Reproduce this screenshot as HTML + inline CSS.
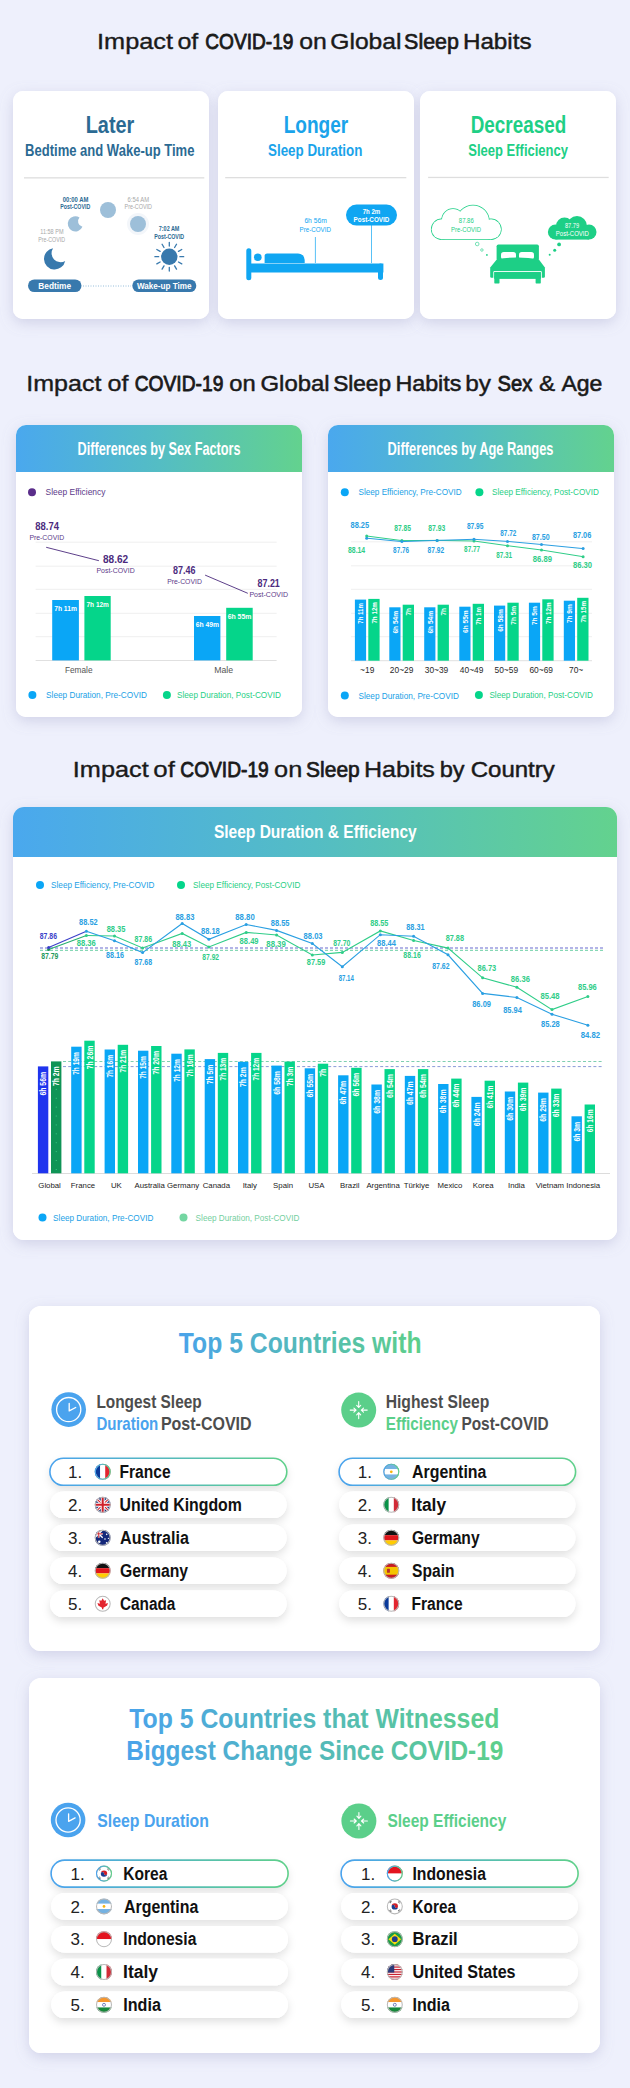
<!DOCTYPE html>
<html><head><meta charset="utf-8"><title>Impact of COVID-19 on Global Sleep Habits</title>
<style>html,body{margin:0;padding:0;background:#eef0fc;}body{width:630px;height:2088px;overflow:hidden;}svg{display:block;font-family:"Liberation Sans", sans-serif;}</style>
</head><body>
<svg width="630" height="2088" viewBox="0 0 630 2088">
<rect width="630" height="2088" fill="#eef0fc"/>
<rect x="13" y="91" width="196" height="228" rx="10" fill="#fff" filter="url(#sh)"/>
<rect x="218" y="91" width="196" height="228" rx="10" fill="#fff" filter="url(#sh)"/>
<rect x="420" y="91" width="196" height="228" rx="10" fill="#fff" filter="url(#sh)"/>
<rect x="16" y="425" width="286" height="292" rx="10" fill="#fff" filter="url(#sh)"/>
<rect x="328" y="425" width="286" height="292" rx="10" fill="#fff" filter="url(#sh)"/>
<rect x="13" y="807" width="604" height="433" rx="11" fill="#fff" filter="url(#sh)"/>
<rect x="29" y="1306" width="571" height="345" rx="12" fill="#fff" filter="url(#sh)"/>
<rect x="29" y="1678" width="571" height="375" rx="12" fill="#fff" filter="url(#sh)"/>
<defs>
<filter id="sh" x="-15%" y="-15%" width="130%" height="135%"><feDropShadow dx="0" dy="4" stdDeviation="7" flood-color="#8a8cb8" flood-opacity="0.30"/></filter>
<filter id="sh2" x="-10%" y="-80%" width="120%" height="260%"><feDropShadow dx="0" dy="4" stdDeviation="4.5" flood-color="#000" flood-opacity="0.12"/></filter>
<linearGradient id="hg" x1="0" y1="0" x2="1" y2="0"><stop offset="0" stop-color="#4aa8ee"/><stop offset="0.5" stop-color="#54bdc4"/><stop offset="1" stop-color="#63d28e"/></linearGradient>
<linearGradient id="pg" x1="0" y1="0" x2="1" y2="0"><stop offset="0" stop-color="#4aa3ee"/><stop offset="1" stop-color="#5fd08a"/></linearGradient>
<linearGradient id="tg4" gradientUnits="userSpaceOnUse" x1="179" y1="0" x2="420" y2="0"><stop offset="0" stop-color="#4aa3ea"/><stop offset="1" stop-color="#5dcf8a"/></linearGradient>
<linearGradient id="tg5" gradientUnits="userSpaceOnUse" x1="128" y1="0" x2="502" y2="0"><stop offset="0" stop-color="#4aa3ea"/><stop offset="1" stop-color="#5dcf8a"/></linearGradient>
</defs>
<text x="97.0" y="48.8" font-size="22.5" fill="#1a1a1a" textLength="76.0" lengthAdjust="spacingAndGlyphs" stroke="#1a1a1a" stroke-width="0.36" stroke-linejoin="round">Impact</text>
<text x="177.4" y="48.8" font-size="22.5" fill="#1a1a1a" textLength="20.9" lengthAdjust="spacingAndGlyphs" stroke="#1a1a1a" stroke-width="0.36" stroke-linejoin="round">of</text>
<text x="205.3" y="48.8" font-size="22.5" fill="#1a1a1a" textLength="88.2" lengthAdjust="spacingAndGlyphs" stroke="#1a1a1a" stroke-width="0.90" stroke-linejoin="round">COVID-19</text>
<text x="299.2" y="48.8" font-size="22.5" fill="#1a1a1a" textLength="27.6" lengthAdjust="spacingAndGlyphs" stroke="#1a1a1a" stroke-width="0.39" stroke-linejoin="round">on</text>
<text x="330.3" y="48.8" font-size="22.5" fill="#1a1a1a" textLength="71.2" lengthAdjust="spacingAndGlyphs" stroke="#1a1a1a" stroke-width="0.42" stroke-linejoin="round">Global</text>
<text x="404.1" y="48.8" font-size="22.5" fill="#1a1a1a" textLength="54.8" lengthAdjust="spacingAndGlyphs" stroke="#1a1a1a" stroke-width="0.69" stroke-linejoin="round">Sleep</text>
<text x="462.9" y="48.8" font-size="22.5" fill="#1a1a1a" textLength="68.7" lengthAdjust="spacingAndGlyphs" stroke="#1a1a1a" stroke-width="0.45" stroke-linejoin="round">Habits</text>
<rect x="13" y="91" width="196" height="228" rx="10" fill="#fff"/>
<rect x="218" y="91" width="196" height="228" rx="10" fill="#fff"/>
<rect x="420" y="91" width="196" height="228" rx="10" fill="#fff"/>
<text x="85.7" y="133.0" font-size="24.5" font-weight="bold" fill="#2b6a93" textLength="48.6" lengthAdjust="spacingAndGlyphs">Later</text>
<text x="25.1" y="155.7" font-size="16" font-weight="bold" fill="#2b6a93" textLength="169.3" lengthAdjust="spacingAndGlyphs">Bedtime and Wake-up Time</text>
<rect x="24" y="177.2" width="180.3" height="1.3" fill="#dedede"/>
<rect x="225.2" y="177" width="181.1" height="1.3" fill="#dedede"/>
<rect x="428.1" y="176.8" width="180.6" height="1.3" fill="#dedede"/>
<text x="62.8" y="201.8" font-size="6.3" font-weight="bold" fill="#2b6a93" textLength="25.6" lengthAdjust="spacingAndGlyphs">00:00 AM</text>
<text x="60.3" y="209.0" font-size="6.3" font-weight="bold" fill="#2b6a93" textLength="29.9" lengthAdjust="spacingAndGlyphs">Post-COVID</text>
<path d="M82.43,226.68 A7.6,7.6 0 1 1 79.49,217.40 A5.6,5.6 0 0 0 82.43,226.68 Z" fill="#9dbfd9"/>
<circle cx="108" cy="210" r="8" fill="#9dbfd9"/>
<text x="40.3" y="234.0" font-size="6.3" fill="#a8a8a8" textLength="23.2" lengthAdjust="spacingAndGlyphs">11:58 PM</text>
<text x="38.2" y="241.5" font-size="6.3" fill="#a8a8a8" textLength="26.8" lengthAdjust="spacingAndGlyphs">Pre-COVID</text>
<path d="M65.18,260.95 A10.7,10.7 0 1 1 53.10,248.22 A9.0,9.0 0 0 0 65.18,260.95 Z" fill="#3879ad"/>
<text x="127.6" y="202.0" font-size="6.3" fill="#a8a8a8" textLength="21.5" lengthAdjust="spacingAndGlyphs">6:54 AM</text>
<text x="124.6" y="209.0" font-size="6.3" fill="#a8a8a8" textLength="27.4" lengthAdjust="spacingAndGlyphs">Pre-COVID</text>
<circle cx="138" cy="224" r="11" fill="#f3f6fa"/>
<circle cx="138" cy="224" r="8" fill="#9dbfd9"/>
<text x="158.8" y="230.7" font-size="6.3" font-weight="bold" fill="#2b6a93" textLength="20.6" lengthAdjust="spacingAndGlyphs">7:02 AM</text>
<text x="154.2" y="238.6" font-size="6.3" font-weight="bold" fill="#2b6a93" textLength="30.0" lengthAdjust="spacingAndGlyphs">Post-COVID</text>
<circle cx="169.3" cy="256.7" r="8.2" fill="#3879ad"/>
<path d="M179.90,256.70 L183.70,256.70 M178.48,262.00 L181.77,263.90 M174.60,265.88 L176.50,269.17 M169.30,267.30 L169.30,271.10 M164.00,265.88 L162.10,269.17 M160.12,262.00 L156.83,263.90 M158.70,256.70 L154.90,256.70 M160.12,251.40 L156.83,249.50 M164.00,247.52 L162.10,244.23 M169.30,246.10 L169.30,242.30 M174.60,247.52 L176.50,244.23 M178.48,251.40 L181.77,249.50" stroke="#3879ad" stroke-width="1.3" stroke-linecap="round"/>
<rect x="28" y="279.5" width="53.5" height="12.6" rx="6.3" fill="#3879ad"/>
<text x="38.3" y="288.9" font-size="9" font-weight="bold" fill="#fff" textLength="32.7" lengthAdjust="spacingAndGlyphs">Bedtime</text>
<rect x="132.3" y="279.4" width="64" height="12.6" rx="6.3" fill="#3879ad"/>
<text x="136.9" y="288.9" font-size="9" font-weight="bold" fill="#fff" textLength="54.6" lengthAdjust="spacingAndGlyphs">Wake-up Time</text>
<line x1="83" y1="286" x2="131" y2="286" stroke="#5a9cc8" stroke-width="0.8" stroke-dasharray="1 1.5" opacity="0.8"/>
<text x="283.7" y="133.0" font-size="24.5" font-weight="bold" fill="#1aa3ea" textLength="64.6" lengthAdjust="spacingAndGlyphs">Longer</text>
<text x="268.0" y="155.7" font-size="16" font-weight="bold" fill="#1aa3ea" textLength="94.4" lengthAdjust="spacingAndGlyphs">Sleep Duration</text>
<rect x="246.3" y="248.3" width="5" height="32" rx="2.5" fill="#10a6f2"/>
<rect x="248" y="263.5" width="135.4" height="9" fill="#10a6f2"/>
<rect x="378" y="263.5" width="5" height="16.5" rx="2.5" fill="#10a6f2"/>
<circle cx="257.8" cy="257.2" r="3.8" fill="#10a6f2"/>
<path d="M264.6,263 V256 a2.6,2.6 0 0 1 2.6,-2.6 H298 a6.7,6.7 0 0 1 6.7,6.7 V263 Z" fill="#10a6f2"/>
<line x1="315.4" y1="237" x2="315.4" y2="263" stroke="#10a6f2" stroke-width="0.7"/>
<line x1="371.5" y1="225" x2="371.5" y2="263" stroke="#10a6f2" stroke-width="0.7"/>
<text x="304.4" y="223.4" font-size="7" fill="#10a6f2" textLength="22.4" lengthAdjust="spacingAndGlyphs">6h 56m</text>
<text x="299.5" y="232.4" font-size="7" fill="#10a6f2" textLength="31.4" lengthAdjust="spacingAndGlyphs">Pre-COVID</text>
<rect x="346" y="204.6" width="51" height="21" rx="10.5" fill="#10a6f2"/>
<text x="362.7" y="214.0" font-size="6.5" font-weight="bold" fill="#fff" textLength="17.6" lengthAdjust="spacingAndGlyphs">7h 2m</text>
<text x="353.6" y="222.0" font-size="6.5" font-weight="bold" fill="#fff" textLength="35.7" lengthAdjust="spacingAndGlyphs">Post-COVID</text>
<text x="470.7" y="133.4" font-size="24.5" font-weight="bold" fill="#20cf85" textLength="95.5" lengthAdjust="spacingAndGlyphs">Decreased</text>
<text x="468.3" y="156.3" font-size="16" font-weight="bold" fill="#20cf85" textLength="99.7" lengthAdjust="spacingAndGlyphs">Sleep Efficiency</text>
<g fill="#1dcf86" stroke="#1dcf86" stroke-width="1.4"><circle cx="441.6" cy="229.2" r="10"/><circle cx="453" cy="220" r="11"/><circle cx="473" cy="221.4" r="16"/><circle cx="491" cy="229.2" r="10"/><rect x="441.6" y="229.2" width="49.4" height="10.0"/></g>
<g fill="#fff"><circle cx="441.6" cy="229.2" r="10"/><circle cx="453" cy="220" r="11"/><circle cx="473" cy="221.4" r="16"/><circle cx="491" cy="229.2" r="10"/><rect x="441.6" y="229.2" width="49.4" height="10.0"/></g>
<text x="458.8" y="223.0" font-size="7" fill="#1dcf86" textLength="15.0" lengthAdjust="spacingAndGlyphs">87.86</text>
<text x="451.0" y="231.6" font-size="7" fill="#1dcf86" textLength="30.0" lengthAdjust="spacingAndGlyphs">Pre-COVID</text>
<circle cx="477.2" cy="244" r="1.8" fill="#fff" stroke="#1dcf86" stroke-width="0.6"/>
<circle cx="481.9" cy="250" r="1.25" fill="#fff" stroke="#1dcf86" stroke-width="0.6"/>
<circle cx="486.9" cy="254.9" r="0.9" fill="#1dcf86"/>
<g fill="#1dcf86"><circle cx="555.5" cy="232" r="7.6"/><circle cx="564.5" cy="226" r="8.5"/><circle cx="577" cy="226" r="10"/><circle cx="589" cy="232" r="7.5"/><rect x="555.5" y="232" width="33.5" height="7.6"/></g>
<text x="564.9" y="227.8" font-size="7" fill="#fff" textLength="14.2" lengthAdjust="spacingAndGlyphs">87.79</text>
<text x="555.8" y="236.4" font-size="7" fill="#fff" textLength="33.0" lengthAdjust="spacingAndGlyphs">Post-COVID</text>
<circle cx="559.1" cy="244.4" r="1.9" fill="#1dcf86"/>
<circle cx="554.7" cy="250.2" r="1.5" fill="#1dcf86"/>
<circle cx="549.7" cy="254.8" r="1" fill="#1dcf86"/>
<rect x="496.6" y="244.4" width="42.3" height="16" rx="1.8" fill="#1dcf86"/>
<rect x="501" y="252" width="15" height="7.5" rx="2.8" fill="#fff"/>
<rect x="519" y="252" width="15" height="7.5" rx="2.8" fill="#fff"/>
<path d="M496.9,259.2 Q517.8,255.6 538.7,259.2 L544.9,267.5 V276.5 Q544.9,277.7 543.7,277.7 H491.4 Q490.2,277.7 490.2,276.5 V267.5 Z" fill="#1dcf86"/>
<path d="M493.8,278.5 V271.6 H541.3 V278.5" fill="none" stroke="#fff" stroke-width="1"/>
<rect x="494.3" y="272.1" width="46.5" height="6.8" fill="#1dcf86"/>
<rect x="494.3" y="276" width="5.2" height="7.4" rx="0.6" fill="#1dcf86"/>
<rect x="535.6" y="276" width="5.2" height="7.4" rx="0.6" fill="#1dcf86"/>
<text x="26.2" y="391.0" font-size="22" fill="#1a1a1a" textLength="75.2" lengthAdjust="spacingAndGlyphs" stroke="#1a1a1a" stroke-width="0.38" stroke-linejoin="round">Impact</text>
<text x="107.6" y="391.0" font-size="22" fill="#1a1a1a" textLength="21.0" lengthAdjust="spacingAndGlyphs" stroke="#1a1a1a" stroke-width="0.35" stroke-linejoin="round">of</text>
<text x="134.7" y="391.0" font-size="22" fill="#1a1a1a" textLength="88.7" lengthAdjust="spacingAndGlyphs" stroke="#1a1a1a" stroke-width="0.89" stroke-linejoin="round">COVID-19</text>
<text x="229.2" y="391.0" font-size="22" fill="#1a1a1a" textLength="26.4" lengthAdjust="spacingAndGlyphs" stroke="#1a1a1a" stroke-width="0.47" stroke-linejoin="round">on</text>
<text x="260.5" y="391.0" font-size="22" fill="#1a1a1a" textLength="69.1" lengthAdjust="spacingAndGlyphs" stroke="#1a1a1a" stroke-width="0.48" stroke-linejoin="round">Global</text>
<text x="333.2" y="391.0" font-size="22" fill="#1a1a1a" textLength="57.8" lengthAdjust="spacingAndGlyphs" stroke="#1a1a1a" stroke-width="0.59" stroke-linejoin="round">Sleep</text>
<text x="395.4" y="391.0" font-size="22" fill="#1a1a1a" textLength="66.0" lengthAdjust="spacingAndGlyphs" stroke="#1a1a1a" stroke-width="0.53" stroke-linejoin="round">Habits</text>
<text x="465.3" y="391.0" font-size="22" fill="#1a1a1a" textLength="25.8" lengthAdjust="spacingAndGlyphs" stroke="#1a1a1a" stroke-width="0.41" stroke-linejoin="round">by</text>
<text x="497.6" y="391.0" font-size="22" fill="#1a1a1a" textLength="34.9" lengthAdjust="spacingAndGlyphs" stroke="#1a1a1a" stroke-width="0.78" stroke-linejoin="round">Sex</text>
<text x="539.1" y="391.0" font-size="22" fill="#1a1a1a" textLength="16.2" lengthAdjust="spacingAndGlyphs" stroke="#1a1a1a" stroke-width="0.40" stroke-linejoin="round">&amp;</text>
<text x="561.4" y="391.0" font-size="22" fill="#1a1a1a" textLength="41.0" lengthAdjust="spacingAndGlyphs" stroke="#1a1a1a" stroke-width="0.54" stroke-linejoin="round">Age</text>
<rect x="16" y="425" width="286" height="292" rx="10" fill="#fff"/>
<path d="M16,472 V435 a10,10 0 0 1 10,-10 H292 a10,10 0 0 1 10,10 V472 Z" fill="url(#hg)"/>
<rect x="328" y="425" width="286" height="292" rx="10" fill="#fff"/>
<path d="M328,472 V435 a10,10 0 0 1 10,-10 H604 a10,10 0 0 1 10,10 V472 Z" fill="url(#hg)"/>
<text x="77.5" y="454.5" font-size="17.5" font-weight="bold" fill="#fff" textLength="163.1" lengthAdjust="spacingAndGlyphs">Differences by Sex Factors</text>
<text x="387.6" y="454.5" font-size="17.5" font-weight="bold" fill="#fff" textLength="165.9" lengthAdjust="spacingAndGlyphs">Differences by Age Ranges</text>
<circle cx="32" cy="492.3" r="4" fill="#5a2d8a"/>
<text x="45.6" y="495.2" font-size="8.2" fill="#5c3a8a" textLength="59.9" lengthAdjust="spacingAndGlyphs">Sleep Efficiency</text>
<rect x="35.6" y="541.7" width="241" height="1" fill="#efefef"/>
<rect x="35.6" y="565.7" width="241" height="1" fill="#efefef"/>
<rect x="35.6" y="588.8" width="241" height="1" fill="#efefef"/>
<rect x="35.6" y="612.8" width="241" height="1" fill="#efefef"/>
<rect x="35.6" y="636.2" width="241" height="1" fill="#efefef"/>
<rect x="35.6" y="660" width="241" height="1" fill="#e0e0e0"/>
<rect x="52.2" y="600.0" width="26.7" height="60.4" fill="#0aa6f6"/>
<rect x="84.4" y="596.0" width="26.3" height="64.4" fill="#05d58a"/>
<rect x="194.0" y="616.0" width="26.4" height="44.4" fill="#0aa6f6"/>
<rect x="226.2" y="607.8" width="26.5" height="52.6" fill="#05d58a"/>
<text x="54.2" y="610.7" font-size="7.6" font-weight="bold" fill="#fff" textLength="22.7" lengthAdjust="spacingAndGlyphs">7h 11m</text>
<text x="86.5" y="606.8" font-size="7.6" font-weight="bold" fill="#fff" textLength="22.4" lengthAdjust="spacingAndGlyphs">7h 12m</text>
<text x="195.8" y="626.5" font-size="7.6" font-weight="bold" fill="#fff" textLength="23.2" lengthAdjust="spacingAndGlyphs">6h 49m</text>
<text x="227.7" y="618.5" font-size="7.6" font-weight="bold" fill="#fff" textLength="23.7" lengthAdjust="spacingAndGlyphs">6h 55m</text>
<text x="64.9" y="673.3" font-size="8.2" fill="#555" textLength="27.6" lengthAdjust="spacingAndGlyphs">Female</text>
<text x="214.2" y="673.3" font-size="8.2" fill="#555" textLength="18.9" lengthAdjust="spacingAndGlyphs">Male</text>
<line x1="46.2" y1="547.3" x2="98.9" y2="560.7" stroke="#4b2a7d" stroke-width="0.9"/>
<line x1="205.1" y1="575.1" x2="247.8" y2="593.3" stroke="#4b2a7d" stroke-width="0.9"/>
<text x="35.3" y="530.4" font-size="10.5" font-weight="bold" fill="#4b2a7d" textLength="23.7" lengthAdjust="spacingAndGlyphs">88.74</text>
<text x="29.4" y="540.0" font-size="7.5" fill="#5c3a8a" textLength="34.7" lengthAdjust="spacingAndGlyphs">Pre-COVID</text>
<text x="103.0" y="563.3" font-size="10.5" font-weight="bold" fill="#4b2a7d" textLength="25.2" lengthAdjust="spacingAndGlyphs">88.62</text>
<text x="96.4" y="573.0" font-size="7.5" fill="#5c3a8a" textLength="38.3" lengthAdjust="spacingAndGlyphs">Post-COVID</text>
<text x="173.0" y="574.0" font-size="10.5" font-weight="bold" fill="#4b2a7d" textLength="22.4" lengthAdjust="spacingAndGlyphs">87.46</text>
<text x="167.2" y="584.0" font-size="7.5" fill="#5c3a8a" textLength="34.7" lengthAdjust="spacingAndGlyphs">Pre-COVID</text>
<text x="257.5" y="587.3" font-size="10.5" font-weight="bold" fill="#4b2a7d" textLength="22.3" lengthAdjust="spacingAndGlyphs">87.21</text>
<text x="249.4" y="597.0" font-size="7.5" fill="#5c3a8a" textLength="38.7" lengthAdjust="spacingAndGlyphs">Post-COVID</text>
<circle cx="32.4" cy="695" r="4" fill="#0aa6f6"/>
<text x="46.1" y="698.0" font-size="8.2" fill="#1a9fe6" textLength="100.8" lengthAdjust="spacingAndGlyphs">Sleep Duration, Pre-COVID</text>
<circle cx="166.9" cy="695" r="4" fill="#05d58a"/>
<text x="177.0" y="698.0" font-size="8.2" fill="#1fcf85" textLength="103.9" lengthAdjust="spacingAndGlyphs">Sleep Duration, Post-COVID</text>
<circle cx="344.8" cy="492.3" r="4" fill="#0aa6f6"/>
<text x="358.5" y="495.2" font-size="8.2" fill="#1a9fe6" textLength="103.1" lengthAdjust="spacingAndGlyphs">Sleep Efficiency, Pre-COVID</text>
<circle cx="479.4" cy="492.3" r="4" fill="#05d58a"/>
<text x="492.1" y="495.2" font-size="8.2" fill="#1fcf85" textLength="106.8" lengthAdjust="spacingAndGlyphs">Sleep Efficiency, Post-COVID</text>
<rect x="351" y="541.3" width="241" height="1" fill="#efefef"/>
<rect x="351" y="565.3" width="241" height="1" fill="#efefef"/>
<rect x="351" y="588.8" width="241" height="1" fill="#efefef"/>
<rect x="351" y="612.8" width="241" height="1" fill="#efefef"/>
<rect x="351" y="636.2" width="241" height="1" fill="#efefef"/>
<rect x="351" y="660.2" width="241" height="1" fill="#e0e0e0"/>
<rect x="354.9" y="599.6" width="11.2" height="61.1" fill="#0aa6f6"/>
<rect x="368.3" y="598.9" width="11.3" height="61.8" fill="#05d58a"/>
<text transform="translate(363.4,623.7) rotate(-90)" font-size="8" font-weight="bold" fill="#fff" textLength="20.5" lengthAdjust="spacingAndGlyphs">7h 11m</text>
<text transform="translate(376.8,623.6) rotate(-90)" font-size="8" font-weight="bold" fill="#fff" textLength="21.5" lengthAdjust="spacingAndGlyphs">7h 12m</text>
<text x="367.2" y="672.5" font-size="8.4" fill="#2a2a2a" text-anchor="middle">~19</text>
<rect x="389.3" y="607.3" width="11.2" height="53.4" fill="#0aa6f6"/>
<rect x="402.7" y="604.7" width="11.3" height="56.0" fill="#05d58a"/>
<text transform="translate(397.8,633.6) rotate(-90)" font-size="8" font-weight="bold" fill="#fff" textLength="22.7" lengthAdjust="spacingAndGlyphs">6h 54m</text>
<text transform="translate(411.2,615.5) rotate(-90)" font-size="8" font-weight="bold" fill="#fff" textLength="7.6" lengthAdjust="spacingAndGlyphs">7h</text>
<text x="401.6" y="672.5" font-size="8.4" fill="#2a2a2a" text-anchor="middle">20~29</text>
<rect x="424.2" y="607.3" width="11.2" height="53.4" fill="#0aa6f6"/>
<rect x="437.6" y="604.7" width="11.3" height="56.0" fill="#05d58a"/>
<text transform="translate(432.7,633.6) rotate(-90)" font-size="8" font-weight="bold" fill="#fff" textLength="22.7" lengthAdjust="spacingAndGlyphs">6h 54m</text>
<text transform="translate(446.1,615.5) rotate(-90)" font-size="8" font-weight="bold" fill="#fff" textLength="7.6" lengthAdjust="spacingAndGlyphs">7h</text>
<text x="436.5" y="672.5" font-size="8.4" fill="#2a2a2a" text-anchor="middle">30~39</text>
<rect x="459.3" y="606.7" width="11.2" height="54.0" fill="#0aa6f6"/>
<rect x="472.7" y="603.8" width="11.3" height="56.9" fill="#05d58a"/>
<text transform="translate(467.8,632.9) rotate(-90)" font-size="8" font-weight="bold" fill="#fff" textLength="22.6" lengthAdjust="spacingAndGlyphs">6h 55m</text>
<text transform="translate(481.2,624.8) rotate(-90)" font-size="8" font-weight="bold" fill="#fff" textLength="17.8" lengthAdjust="spacingAndGlyphs">7h 1m</text>
<text x="471.6" y="672.5" font-size="8.4" fill="#2a2a2a" text-anchor="middle">40~49</text>
<rect x="494.0" y="605.6" width="11.2" height="55.1" fill="#0aa6f6"/>
<rect x="507.4" y="602.7" width="11.3" height="58.0" fill="#05d58a"/>
<text transform="translate(502.5,631.8) rotate(-90)" font-size="8" font-weight="bold" fill="#fff" textLength="22.6" lengthAdjust="spacingAndGlyphs">6h 58m</text>
<text transform="translate(515.9,624.7) rotate(-90)" font-size="8" font-weight="bold" fill="#fff" textLength="18.8" lengthAdjust="spacingAndGlyphs">7h 5m</text>
<text x="506.3" y="672.5" font-size="8.4" fill="#2a2a2a" text-anchor="middle">50~59</text>
<rect x="528.9" y="602.7" width="11.2" height="58.0" fill="#0aa6f6"/>
<rect x="542.3" y="599.3" width="11.3" height="61.4" fill="#05d58a"/>
<text transform="translate(537.4,625.1) rotate(-90)" font-size="8" font-weight="bold" fill="#fff" textLength="18.8" lengthAdjust="spacingAndGlyphs">7h 5m</text>
<text transform="translate(550.8,624.0) rotate(-90)" font-size="8" font-weight="bold" fill="#fff" textLength="21.5" lengthAdjust="spacingAndGlyphs">7h 12m</text>
<text x="541.2" y="672.5" font-size="8.4" fill="#2a2a2a" text-anchor="middle">60~69</text>
<rect x="563.8" y="600.7" width="11.2" height="60.0" fill="#0aa6f6"/>
<rect x="577.2" y="597.8" width="11.3" height="62.9" fill="#05d58a"/>
<text transform="translate(572.3,623.1) rotate(-90)" font-size="8" font-weight="bold" fill="#fff" textLength="18.8" lengthAdjust="spacingAndGlyphs">7h 9m</text>
<text transform="translate(585.7,622.5) rotate(-90)" font-size="8" font-weight="bold" fill="#fff" textLength="21.5" lengthAdjust="spacingAndGlyphs">7h 15m</text>
<text x="576.1" y="672.5" font-size="8.4" fill="#2a2a2a" text-anchor="middle">70~</text>
<polyline points="366.7,536.0 401.9,540.6 437.1,540.4 474.0,541.0 507.5,545.7 541.5,550.0 583.1,556.7" fill="none" stroke="#2fcd88" stroke-width="1"/>
<polyline points="366.7,538.2 401.9,541.6 437.1,540.4 474.0,539.3 507.5,541.4 541.5,544.5 583.1,548.6" fill="none" stroke="#2a9fe2" stroke-width="1"/>
<circle cx="366.7" cy="536.0" r="1.5" fill="#2fcd88"/>
<circle cx="401.9" cy="540.6" r="1.5" fill="#2fcd88"/>
<circle cx="437.1" cy="540.4" r="1.5" fill="#2fcd88"/>
<circle cx="474.0" cy="541.0" r="1.5" fill="#2fcd88"/>
<circle cx="507.5" cy="545.7" r="1.5" fill="#2fcd88"/>
<circle cx="541.5" cy="550.0" r="1.5" fill="#2fcd88"/>
<circle cx="583.1" cy="556.7" r="1.5" fill="#2fcd88"/>
<circle cx="366.7" cy="538.2" r="1.5" fill="#2a9fe2"/>
<circle cx="401.9" cy="541.6" r="1.5" fill="#2a9fe2"/>
<circle cx="437.1" cy="540.4" r="1.5" fill="#2a9fe2"/>
<circle cx="474.0" cy="539.3" r="1.5" fill="#2a9fe2"/>
<circle cx="507.5" cy="541.4" r="1.5" fill="#2a9fe2"/>
<circle cx="541.5" cy="544.5" r="1.5" fill="#2a9fe2"/>
<circle cx="583.1" cy="548.6" r="1.5" fill="#2a9fe2"/>
<text x="350.5" y="527.9" font-size="8.6" font-weight="bold" fill="#2a9fe2" textLength="18.6" lengthAdjust="spacingAndGlyphs">88.25</text>
<text x="394.2" y="530.8" font-size="8.6" font-weight="bold" fill="#2fcd88" textLength="16.7" lengthAdjust="spacingAndGlyphs">87.85</text>
<text x="428.2" y="530.8" font-size="8.6" font-weight="bold" fill="#2fcd88" textLength="17.0" lengthAdjust="spacingAndGlyphs">87.93</text>
<text x="466.9" y="529.2" font-size="8.6" font-weight="bold" fill="#2a9fe2" textLength="16.6" lengthAdjust="spacingAndGlyphs">87.95</text>
<text x="500.3" y="535.6" font-size="8.6" font-weight="bold" fill="#2a9fe2" textLength="16.0" lengthAdjust="spacingAndGlyphs">87.72</text>
<text x="531.9" y="539.7" font-size="8.6" font-weight="bold" fill="#2a9fe2" textLength="17.7" lengthAdjust="spacingAndGlyphs">87.50</text>
<text x="572.9" y="538.0" font-size="8.6" font-weight="bold" fill="#2a9fe2" textLength="18.4" lengthAdjust="spacingAndGlyphs">87.06</text>
<text x="348.0" y="553.0" font-size="8.6" font-weight="bold" fill="#2fcd88" textLength="17.2" lengthAdjust="spacingAndGlyphs">88.14</text>
<text x="393.1" y="553.4" font-size="8.6" font-weight="bold" fill="#2a9fe2" textLength="16.0" lengthAdjust="spacingAndGlyphs">87.76</text>
<text x="427.6" y="553.4" font-size="8.6" font-weight="bold" fill="#2a9fe2" textLength="16.5" lengthAdjust="spacingAndGlyphs">87.92</text>
<text x="464.1" y="551.8" font-size="8.6" font-weight="bold" fill="#2fcd88" textLength="16.0" lengthAdjust="spacingAndGlyphs">87.77</text>
<text x="496.2" y="558.2" font-size="8.6" font-weight="bold" fill="#2fcd88" textLength="15.9" lengthAdjust="spacingAndGlyphs">87.31</text>
<text x="532.8" y="562.3" font-size="8.6" font-weight="bold" fill="#2fcd88" textLength="19.2" lengthAdjust="spacingAndGlyphs">86.89</text>
<text x="572.9" y="568.2" font-size="8.6" font-weight="bold" fill="#2fcd88" textLength="19.2" lengthAdjust="spacingAndGlyphs">86.30</text>
<circle cx="344.8" cy="695.5" r="4" fill="#0aa6f6"/>
<text x="358.5" y="698.5" font-size="8.2" fill="#1a9fe6" textLength="100.4" lengthAdjust="spacingAndGlyphs">Sleep Duration, Pre-COVID</text>
<circle cx="478.9" cy="695" r="4" fill="#05d58a"/>
<text x="489.4" y="698.0" font-size="8.2" fill="#1fcf85" textLength="103.5" lengthAdjust="spacingAndGlyphs">Sleep Duration, Post-COVID</text>
<text x="72.8" y="777.0" font-size="22" fill="#1a1a1a" textLength="75.9" lengthAdjust="spacingAndGlyphs" stroke="#1a1a1a" stroke-width="0.36" stroke-linejoin="round">Impact</text>
<text x="153.3" y="777.0" font-size="22" fill="#1a1a1a" textLength="21.6" lengthAdjust="spacingAndGlyphs" stroke="#1a1a1a" stroke-width="0.29" stroke-linejoin="round">of</text>
<text x="180.3" y="777.0" font-size="22" fill="#1a1a1a" textLength="88.5" lengthAdjust="spacingAndGlyphs" stroke="#1a1a1a" stroke-width="0.89" stroke-linejoin="round">COVID-19</text>
<text x="274.1" y="777.0" font-size="22" fill="#1a1a1a" textLength="28.2" lengthAdjust="spacingAndGlyphs" stroke="#1a1a1a" stroke-width="0.34" stroke-linejoin="round">on</text>
<text x="306.1" y="777.0" font-size="22" fill="#1a1a1a" textLength="53.6" lengthAdjust="spacingAndGlyphs" stroke="#1a1a1a" stroke-width="0.73" stroke-linejoin="round">Sleep</text>
<text x="363.9" y="777.0" font-size="22" fill="#1a1a1a" textLength="71.0" lengthAdjust="spacingAndGlyphs" stroke="#1a1a1a" stroke-width="0.38" stroke-linejoin="round">Habits</text>
<text x="439.7" y="777.0" font-size="22" fill="#1a1a1a" textLength="24.9" lengthAdjust="spacingAndGlyphs" stroke="#1a1a1a" stroke-width="0.48" stroke-linejoin="round">by</text>
<text x="470.7" y="777.0" font-size="22" fill="#1a1a1a" textLength="84.1" lengthAdjust="spacingAndGlyphs" stroke="#1a1a1a" stroke-width="0.47" stroke-linejoin="round">Country</text>
<rect x="13" y="807" width="604" height="433" rx="11" fill="#fff"/>
<path d="M13,857 V818 a11,11 0 0 1 11,-11 H606 a11,11 0 0 1 11,11 V857 Z" fill="url(#hg)"/>
<text x="213.9" y="838.3" font-size="19" font-weight="bold" fill="#fff" textLength="202.8" lengthAdjust="spacingAndGlyphs">Sleep Duration &amp; Efficiency</text>
<circle cx="40" cy="885" r="4" fill="#0aa6f6"/>
<text x="51.1" y="888.0" font-size="8.2" fill="#1a9fe6" textLength="103.3" lengthAdjust="spacingAndGlyphs">Sleep Efficiency, Pre-COVID</text>
<circle cx="181" cy="885" r="4" fill="#05d58a"/>
<text x="193.1" y="888.0" font-size="8.2" fill="#1fcf85" textLength="107.3" lengthAdjust="spacingAndGlyphs">Sleep Efficiency, Post-COVID</text>
<rect x="32" y="1173" width="578" height="1" fill="#dcdcdc"/>
<line x1="63" y1="1061.5" x2="603" y2="1061.5" stroke="#7fcfb0" stroke-width="1" stroke-dasharray="3 2.2"/>
<line x1="63" y1="1066.6" x2="603" y2="1066.6" stroke="#8a9ad8" stroke-width="1" stroke-dasharray="3 2.2"/>
<rect x="37.9" y="1066.4" width="10.4" height="106.9" fill="#1f34ee"/>
<rect x="51.0" y="1061.4" width="10.4" height="111.9" fill="#0f9456"/>
<text transform="translate(46.1,1095.6) rotate(-90)" font-size="8.2" font-weight="bold" fill="#fff" textLength="23.7" lengthAdjust="spacingAndGlyphs">6h 56m</text>
<text transform="translate(59.2,1086.1) rotate(-90)" font-size="8.2" font-weight="bold" fill="#fff" textLength="19.7" lengthAdjust="spacingAndGlyphs">7h 2m</text>
<text x="49.6" y="1188.0" font-size="7.8" fill="#222" text-anchor="middle">Global</text>
<rect x="71.2" y="1046.7" width="10.4" height="126.6" fill="#0aa6f6"/>
<rect x="84.3" y="1040.7" width="10.4" height="132.6" fill="#05d58a"/>
<text transform="translate(79.4,1074.8) rotate(-90)" font-size="8.2" font-weight="bold" fill="#fff" textLength="22.6" lengthAdjust="spacingAndGlyphs">7h 19m</text>
<text transform="translate(92.5,1069.3) rotate(-90)" font-size="8.2" font-weight="bold" fill="#fff" textLength="23.6" lengthAdjust="spacingAndGlyphs">7h 26m</text>
<text x="83.0" y="1188.0" font-size="7.8" fill="#222" text-anchor="middle">France</text>
<rect x="104.6" y="1049.5" width="10.4" height="123.8" fill="#0aa6f6"/>
<rect x="117.7" y="1044.8" width="10.4" height="128.5" fill="#05d58a"/>
<text transform="translate(112.8,1077.6) rotate(-90)" font-size="8.2" font-weight="bold" fill="#fff" textLength="22.6" lengthAdjust="spacingAndGlyphs">7h 16m</text>
<text transform="translate(125.9,1072.4) rotate(-90)" font-size="8.2" font-weight="bold" fill="#fff" textLength="22.6" lengthAdjust="spacingAndGlyphs">7h 21m</text>
<text x="116.3" y="1188.0" font-size="7.8" fill="#222" text-anchor="middle">UK</text>
<rect x="138.0" y="1050.7" width="10.4" height="122.6" fill="#0aa6f6"/>
<rect x="151.1" y="1046.0" width="10.4" height="127.3" fill="#05d58a"/>
<text transform="translate(146.1,1078.8) rotate(-90)" font-size="8.2" font-weight="bold" fill="#fff" textLength="22.6" lengthAdjust="spacingAndGlyphs">7h 15m</text>
<text transform="translate(159.2,1074.6) rotate(-90)" font-size="8.2" font-weight="bold" fill="#fff" textLength="23.6" lengthAdjust="spacingAndGlyphs">7h 20m</text>
<text x="149.7" y="1188.0" font-size="7.8" fill="#222" text-anchor="middle">Australia</text>
<rect x="171.3" y="1053.7" width="10.4" height="119.6" fill="#0aa6f6"/>
<rect x="184.4" y="1049.4" width="10.4" height="123.9" fill="#05d58a"/>
<text transform="translate(179.5,1081.8) rotate(-90)" font-size="8.2" font-weight="bold" fill="#fff" textLength="22.6" lengthAdjust="spacingAndGlyphs">7h 12m</text>
<text transform="translate(192.6,1077.0) rotate(-90)" font-size="8.2" font-weight="bold" fill="#fff" textLength="22.6" lengthAdjust="spacingAndGlyphs">7h 16m</text>
<text x="183.1" y="1188.0" font-size="7.8" fill="#222" text-anchor="middle">Germany</text>
<rect x="204.7" y="1059.1" width="10.4" height="114.2" fill="#0aa6f6"/>
<rect x="217.8" y="1052.9" width="10.4" height="120.4" fill="#05d58a"/>
<text transform="translate(212.8,1084.3) rotate(-90)" font-size="8.2" font-weight="bold" fill="#fff" textLength="19.7" lengthAdjust="spacingAndGlyphs">7h 5m</text>
<text transform="translate(225.9,1080.5) rotate(-90)" font-size="8.2" font-weight="bold" fill="#fff" textLength="22.6" lengthAdjust="spacingAndGlyphs">7h 13m</text>
<text x="216.4" y="1188.0" font-size="7.8" fill="#222" text-anchor="middle">Canada</text>
<rect x="238.0" y="1061.8" width="10.4" height="111.5" fill="#0aa6f6"/>
<rect x="251.1" y="1052.9" width="10.4" height="120.4" fill="#05d58a"/>
<text transform="translate(246.2,1087.0) rotate(-90)" font-size="8.2" font-weight="bold" fill="#fff" textLength="19.7" lengthAdjust="spacingAndGlyphs">7h 2m</text>
<text transform="translate(259.3,1080.5) rotate(-90)" font-size="8.2" font-weight="bold" fill="#fff" textLength="22.6" lengthAdjust="spacingAndGlyphs">7h 12m</text>
<text x="249.8" y="1188.0" font-size="7.8" fill="#222" text-anchor="middle">Italy</text>
<rect x="271.4" y="1065.6" width="10.4" height="107.7" fill="#0aa6f6"/>
<rect x="284.5" y="1061.6" width="10.4" height="111.7" fill="#05d58a"/>
<text transform="translate(279.5,1094.8) rotate(-90)" font-size="8.2" font-weight="bold" fill="#fff" textLength="23.7" lengthAdjust="spacingAndGlyphs">6h 58m</text>
<text transform="translate(292.6,1086.3) rotate(-90)" font-size="8.2" font-weight="bold" fill="#fff" textLength="19.7" lengthAdjust="spacingAndGlyphs">7h 3m</text>
<text x="283.1" y="1188.0" font-size="7.8" fill="#222" text-anchor="middle">Spain</text>
<rect x="304.7" y="1068.3" width="10.4" height="105.0" fill="#0aa6f6"/>
<rect x="317.8" y="1063.7" width="10.4" height="109.6" fill="#05d58a"/>
<text transform="translate(312.9,1097.5) rotate(-90)" font-size="8.2" font-weight="bold" fill="#fff" textLength="23.7" lengthAdjust="spacingAndGlyphs">6h 55m</text>
<text transform="translate(326.0,1076.7) rotate(-90)" font-size="8.2" font-weight="bold" fill="#fff" textLength="8.0" lengthAdjust="spacingAndGlyphs">7h</text>
<text x="316.4" y="1188.0" font-size="7.8" fill="#222" text-anchor="middle">USA</text>
<rect x="338.1" y="1075.3" width="10.4" height="98.0" fill="#0aa6f6"/>
<rect x="351.2" y="1067.8" width="10.4" height="105.5" fill="#05d58a"/>
<text transform="translate(346.2,1104.5) rotate(-90)" font-size="8.2" font-weight="bold" fill="#fff" textLength="23.7" lengthAdjust="spacingAndGlyphs">6h 47m</text>
<text transform="translate(359.3,1096.5) rotate(-90)" font-size="8.2" font-weight="bold" fill="#fff" textLength="23.7" lengthAdjust="spacingAndGlyphs">6h 56m</text>
<text x="349.8" y="1188.0" font-size="7.8" fill="#222" text-anchor="middle">Brazil</text>
<rect x="371.4" y="1084.5" width="10.4" height="88.8" fill="#0aa6f6"/>
<rect x="384.5" y="1069.1" width="10.4" height="104.2" fill="#05d58a"/>
<text transform="translate(379.6,1113.7) rotate(-90)" font-size="8.2" font-weight="bold" fill="#fff" textLength="23.7" lengthAdjust="spacingAndGlyphs">6h 38m</text>
<text transform="translate(392.7,1097.9) rotate(-90)" font-size="8.2" font-weight="bold" fill="#fff" textLength="23.8" lengthAdjust="spacingAndGlyphs">6h 54m</text>
<text x="383.1" y="1188.0" font-size="7.8" fill="#222" text-anchor="middle">Argentina</text>
<rect x="404.8" y="1075.9" width="10.4" height="97.4" fill="#0aa6f6"/>
<rect x="417.9" y="1069.1" width="10.4" height="104.2" fill="#05d58a"/>
<text transform="translate(412.9,1105.1) rotate(-90)" font-size="8.2" font-weight="bold" fill="#fff" textLength="23.7" lengthAdjust="spacingAndGlyphs">6h 47m</text>
<text transform="translate(426.0,1097.9) rotate(-90)" font-size="8.2" font-weight="bold" fill="#fff" textLength="23.8" lengthAdjust="spacingAndGlyphs">6h 54m</text>
<text x="416.5" y="1188.0" font-size="7.8" fill="#222" text-anchor="middle">Türkiye</text>
<rect x="438.1" y="1084.0" width="10.4" height="89.3" fill="#0aa6f6"/>
<rect x="451.2" y="1078.6" width="10.4" height="94.7" fill="#05d58a"/>
<text transform="translate(446.3,1113.2) rotate(-90)" font-size="8.2" font-weight="bold" fill="#fff" textLength="23.7" lengthAdjust="spacingAndGlyphs">6h 38m</text>
<text transform="translate(459.4,1107.5) rotate(-90)" font-size="8.2" font-weight="bold" fill="#fff" textLength="23.9" lengthAdjust="spacingAndGlyphs">6h 44m</text>
<text x="449.9" y="1188.0" font-size="7.8" fill="#222" text-anchor="middle">Mexico</text>
<rect x="471.4" y="1096.9" width="10.4" height="76.4" fill="#0aa6f6"/>
<rect x="484.6" y="1080.7" width="10.4" height="92.6" fill="#05d58a"/>
<text transform="translate(479.6,1126.2) rotate(-90)" font-size="8.2" font-weight="bold" fill="#fff" textLength="23.8" lengthAdjust="spacingAndGlyphs">6h 24m</text>
<text transform="translate(492.7,1108.5) rotate(-90)" font-size="8.2" font-weight="bold" fill="#fff" textLength="22.8" lengthAdjust="spacingAndGlyphs">6h 41m</text>
<text x="483.2" y="1188.0" font-size="7.8" fill="#222" text-anchor="middle">Korea</text>
<rect x="504.8" y="1091.5" width="10.4" height="81.8" fill="#0aa6f6"/>
<rect x="517.9" y="1082.6" width="10.4" height="90.7" fill="#05d58a"/>
<text transform="translate(513.0,1120.7) rotate(-90)" font-size="8.2" font-weight="bold" fill="#fff" textLength="23.7" lengthAdjust="spacingAndGlyphs">6h 30m</text>
<text transform="translate(526.1,1111.3) rotate(-90)" font-size="8.2" font-weight="bold" fill="#fff" textLength="23.7" lengthAdjust="spacingAndGlyphs">6h 39m</text>
<text x="516.5" y="1188.0" font-size="7.8" fill="#222" text-anchor="middle">India</text>
<rect x="538.1" y="1092.6" width="10.4" height="80.7" fill="#0aa6f6"/>
<rect x="551.2" y="1088.6" width="10.4" height="84.7" fill="#05d58a"/>
<text transform="translate(546.3,1121.8) rotate(-90)" font-size="8.2" font-weight="bold" fill="#fff" textLength="23.7" lengthAdjust="spacingAndGlyphs">6h 29m</text>
<text transform="translate(559.4,1117.3) rotate(-90)" font-size="8.2" font-weight="bold" fill="#fff" textLength="23.7" lengthAdjust="spacingAndGlyphs">6h 33m</text>
<text x="549.9" y="1188.0" font-size="7.8" fill="#222" text-anchor="middle">Vietnam</text>
<rect x="571.5" y="1116.3" width="10.4" height="57.0" fill="#0aa6f6"/>
<rect x="584.6" y="1104.5" width="10.4" height="68.8" fill="#05d58a"/>
<text transform="translate(579.7,1141.6) rotate(-90)" font-size="8.2" font-weight="bold" fill="#fff" textLength="19.8" lengthAdjust="spacingAndGlyphs">6h 3m</text>
<text transform="translate(592.8,1132.2) rotate(-90)" font-size="8.2" font-weight="bold" fill="#fff" textLength="22.7" lengthAdjust="spacingAndGlyphs">6h 16m</text>
<text x="583.2" y="1188.0" font-size="7.8" fill="#222" text-anchor="middle">Indonesia</text>
<line x1="56.25" y1="1080" x2="56.25" y2="1170" stroke="#3fcf8a" stroke-width="1" stroke-dasharray="0.9 8" />
<circle cx="42.5" cy="1217.5" r="4" fill="#0aa6f6"/>
<text x="53.1" y="1220.5" font-size="8.2" fill="#1a9fe6" textLength="100.3" lengthAdjust="spacingAndGlyphs">Sleep Duration, Pre-COVID</text>
<circle cx="183.5" cy="1217.5" r="4" fill="#74d6a2"/>
<text x="195.6" y="1220.5" font-size="8.2" fill="#74cfa0" textLength="103.8" lengthAdjust="spacingAndGlyphs">Sleep Duration, Post-COVID</text>
<line x1="40" y1="948" x2="604" y2="948" stroke="#9b9ce0" stroke-width="1.3" stroke-dasharray="3 2"/>
<line x1="40" y1="950.4" x2="604" y2="950.4" stroke="#86d8b5" stroke-width="1.3" stroke-dasharray="3 2"/>
<polyline points="86.4,935.5 114.5,936.0 142.6,947.9 182.2,933.4 208.9,946.9 246.2,932.4 276.6,935.0 312.3,955.0 342.3,952.4 380.3,930.9 413.6,940.5 448.0,948.1 482.6,977.8 516.9,987.2 552.0,1009.6 587.9,996.6" fill="none" stroke="#2fcd88" stroke-width="1.1"/>
<polyline points="86.4,931.2 114.5,940.7 142.6,952.6 182.2,923.5 208.9,939.3 246.2,924.5 276.6,930.4 312.3,943.6 342.3,966.7 380.3,934.7 413.6,936.2 448.0,954.8 482.6,993.4 516.9,997.5 552.0,1014.2 587.9,1025.2" fill="none" stroke="#2a9fe2" stroke-width="1.1"/>
<line x1="48.6" y1="949.5" x2="86.4" y2="935.5" stroke="#27b070" stroke-width="1.1"/>
<line x1="48.6" y1="947.4" x2="86.4" y2="931.2" stroke="#3b3fc9" stroke-width="1.1"/>
<circle cx="48.6" cy="949.5" r="1.5" fill="#1f8f5a"/>
<circle cx="86.4" cy="935.5" r="1.5" fill="#2fcd88"/>
<circle cx="114.5" cy="936.0" r="1.5" fill="#2fcd88"/>
<circle cx="142.6" cy="947.9" r="1.5" fill="#2fcd88"/>
<circle cx="182.2" cy="933.4" r="1.5" fill="#2fcd88"/>
<circle cx="208.9" cy="946.9" r="1.5" fill="#2fcd88"/>
<circle cx="246.2" cy="932.4" r="1.5" fill="#2fcd88"/>
<circle cx="276.6" cy="935.0" r="1.5" fill="#2fcd88"/>
<circle cx="312.3" cy="955.0" r="1.5" fill="#2fcd88"/>
<circle cx="342.3" cy="952.4" r="1.5" fill="#2fcd88"/>
<circle cx="380.3" cy="930.9" r="1.5" fill="#2fcd88"/>
<circle cx="413.6" cy="940.5" r="1.5" fill="#2fcd88"/>
<circle cx="448.0" cy="948.1" r="1.5" fill="#2fcd88"/>
<circle cx="482.6" cy="977.8" r="1.5" fill="#2fcd88"/>
<circle cx="516.9" cy="987.2" r="1.5" fill="#2fcd88"/>
<circle cx="552.0" cy="1009.6" r="1.5" fill="#2fcd88"/>
<circle cx="587.9" cy="996.6" r="1.5" fill="#2fcd88"/>
<circle cx="48.6" cy="947.4" r="1.5" fill="#3b3fc9"/>
<circle cx="86.4" cy="931.2" r="1.5" fill="#2a9fe2"/>
<circle cx="114.5" cy="940.7" r="1.5" fill="#2a9fe2"/>
<circle cx="142.6" cy="952.6" r="1.5" fill="#2a9fe2"/>
<circle cx="182.2" cy="923.5" r="1.5" fill="#2a9fe2"/>
<circle cx="208.9" cy="939.3" r="1.5" fill="#2a9fe2"/>
<circle cx="246.2" cy="924.5" r="1.5" fill="#2a9fe2"/>
<circle cx="276.6" cy="930.4" r="1.5" fill="#2a9fe2"/>
<circle cx="312.3" cy="943.6" r="1.5" fill="#2a9fe2"/>
<circle cx="342.3" cy="966.7" r="1.5" fill="#2a9fe2"/>
<circle cx="380.3" cy="934.7" r="1.5" fill="#2a9fe2"/>
<circle cx="413.6" cy="936.2" r="1.5" fill="#2a9fe2"/>
<circle cx="448.0" cy="954.8" r="1.5" fill="#2a9fe2"/>
<circle cx="482.6" cy="993.4" r="1.5" fill="#2a9fe2"/>
<circle cx="516.9" cy="997.5" r="1.5" fill="#2a9fe2"/>
<circle cx="552.0" cy="1014.2" r="1.5" fill="#2a9fe2"/>
<circle cx="587.9" cy="1025.2" r="1.5" fill="#2a9fe2"/>
<text x="39.8" y="939.4" font-size="8.6" font-weight="bold" fill="#3b3fc9" textLength="17.2" lengthAdjust="spacingAndGlyphs">87.86</text>
<text x="79.1" y="925.4" font-size="8.6" font-weight="bold" fill="#2a9fe2" textLength="18.6" lengthAdjust="spacingAndGlyphs">88.52</text>
<text x="106.0" y="958.0" font-size="8.6" font-weight="bold" fill="#2a9fe2" textLength="17.9" lengthAdjust="spacingAndGlyphs">88.16</text>
<text x="134.6" y="965.1" font-size="8.6" font-weight="bold" fill="#2a9fe2" textLength="17.5" lengthAdjust="spacingAndGlyphs">87.68</text>
<text x="175.4" y="920.2" font-size="8.6" font-weight="bold" fill="#2a9fe2" textLength="19.0" lengthAdjust="spacingAndGlyphs">88.83</text>
<text x="201.0" y="934.2" font-size="8.6" font-weight="bold" fill="#2a9fe2" textLength="18.8" lengthAdjust="spacingAndGlyphs">88.18</text>
<text x="235.3" y="920.2" font-size="8.6" font-weight="bold" fill="#2a9fe2" textLength="19.4" lengthAdjust="spacingAndGlyphs">88.80</text>
<text x="270.8" y="925.8" font-size="8.6" font-weight="bold" fill="#2a9fe2" textLength="18.7" lengthAdjust="spacingAndGlyphs">88.55</text>
<text x="303.6" y="938.5" font-size="8.6" font-weight="bold" fill="#2a9fe2" textLength="19.0" lengthAdjust="spacingAndGlyphs">88.03</text>
<text x="338.7" y="981.3" font-size="8.6" font-weight="bold" fill="#2a9fe2" textLength="15.1" lengthAdjust="spacingAndGlyphs">87.14</text>
<text x="377.1" y="946.0" font-size="8.6" font-weight="bold" fill="#2a9fe2" textLength="18.8" lengthAdjust="spacingAndGlyphs">88.44</text>
<text x="406.3" y="929.6" font-size="8.6" font-weight="bold" fill="#2a9fe2" textLength="18.2" lengthAdjust="spacingAndGlyphs">88.31</text>
<text x="432.2" y="969.0" font-size="8.6" font-weight="bold" fill="#2a9fe2" textLength="17.3" lengthAdjust="spacingAndGlyphs">87.62</text>
<text x="472.2" y="1006.7" font-size="8.6" font-weight="bold" fill="#2a9fe2" textLength="18.8" lengthAdjust="spacingAndGlyphs">86.09</text>
<text x="503.2" y="1013.4" font-size="8.6" font-weight="bold" fill="#2a9fe2" textLength="18.7" lengthAdjust="spacingAndGlyphs">85.94</text>
<text x="541.0" y="1026.9" font-size="8.6" font-weight="bold" fill="#2a9fe2" textLength="18.8" lengthAdjust="spacingAndGlyphs">85.28</text>
<text x="580.7" y="1037.7" font-size="8.6" font-weight="bold" fill="#2a9fe2" textLength="19.4" lengthAdjust="spacingAndGlyphs">84.82</text>
<text x="41.2" y="959.2" font-size="8.6" font-weight="bold" fill="#1f9a5e" textLength="17.2" lengthAdjust="spacingAndGlyphs">87.79</text>
<text x="76.7" y="946.1" font-size="8.6" font-weight="bold" fill="#2fcd88" textLength="19.1" lengthAdjust="spacingAndGlyphs">88.36</text>
<text x="106.7" y="931.8" font-size="8.6" font-weight="bold" fill="#2fcd88" textLength="18.7" lengthAdjust="spacingAndGlyphs">88.35</text>
<text x="134.6" y="941.8" font-size="8.6" font-weight="bold" fill="#2fcd88" textLength="17.6" lengthAdjust="spacingAndGlyphs">87.86</text>
<text x="172.3" y="946.6" font-size="8.6" font-weight="bold" fill="#2fcd88" textLength="18.8" lengthAdjust="spacingAndGlyphs">88.43</text>
<text x="202.3" y="960.0" font-size="8.6" font-weight="bold" fill="#2fcd88" textLength="16.8" lengthAdjust="spacingAndGlyphs">87.92</text>
<text x="239.6" y="944.3" font-size="8.6" font-weight="bold" fill="#2fcd88" textLength="19.0" lengthAdjust="spacingAndGlyphs">88.49</text>
<text x="266.3" y="946.8" font-size="8.6" font-weight="bold" fill="#2fcd88" textLength="19.5" lengthAdjust="spacingAndGlyphs">88.39</text>
<text x="306.8" y="965.0" font-size="8.6" font-weight="bold" fill="#2fcd88" textLength="18.5" lengthAdjust="spacingAndGlyphs">87.59</text>
<text x="333.2" y="946.0" font-size="8.6" font-weight="bold" fill="#2fcd88" textLength="17.2" lengthAdjust="spacingAndGlyphs">87.70</text>
<text x="370.2" y="925.8" font-size="8.6" font-weight="bold" fill="#2fcd88" textLength="18.2" lengthAdjust="spacingAndGlyphs">88.55</text>
<text x="403.3" y="958.3" font-size="8.6" font-weight="bold" fill="#2fcd88" textLength="17.5" lengthAdjust="spacingAndGlyphs">88.16</text>
<text x="445.7" y="941.0" font-size="8.6" font-weight="bold" fill="#2fcd88" textLength="18.3" lengthAdjust="spacingAndGlyphs">87.88</text>
<text x="477.6" y="971.3" font-size="8.6" font-weight="bold" fill="#2fcd88" textLength="18.6" lengthAdjust="spacingAndGlyphs">86.73</text>
<text x="510.8" y="981.6" font-size="8.6" font-weight="bold" fill="#2fcd88" textLength="19.1" lengthAdjust="spacingAndGlyphs">86.36</text>
<text x="540.4" y="998.6" font-size="8.6" font-weight="bold" fill="#2fcd88" textLength="19.2" lengthAdjust="spacingAndGlyphs">85.48</text>
<text x="578.0" y="990.2" font-size="8.6" font-weight="bold" fill="#2fcd88" textLength="18.8" lengthAdjust="spacingAndGlyphs">85.96</text>
<defs><clipPath id="fcp"><circle cx="7" cy="7" r="7"/></clipPath>
<symbol id="f_fr" viewBox="0 0 14 14" overflow="visible"><g clip-path="url(#fcp)"><rect x="0" y="0" width="4.8" height="14" fill="#0a3a9a"/><rect x="4.8" y="0" width="4.4" height="14" fill="#fff"/><rect x="9.2" y="0" width="4.8" height="14" fill="#e3252f"/></g><circle cx="7" cy="7" r="6.55" fill="none" stroke="#b8b8b8" stroke-width="0.9"/></symbol>
<symbol id="f_uk" viewBox="0 0 14 14" overflow="visible"><g clip-path="url(#fcp)"><rect width="14" height="14" fill="#1a2f7a"/><path d="M0,0 L14,14 M14,0 L0,14" stroke="#fff" stroke-width="2.6"/><path d="M0,0 L14,14 M14,0 L0,14" stroke="#d0202a" stroke-width="0.9"/><path d="M7,0 V14 M0,7 H14" stroke="#fff" stroke-width="3.4"/><path d="M7,0 V14 M0,7 H14" stroke="#d0202a" stroke-width="1.8"/></g><circle cx="7" cy="7" r="6.55" fill="none" stroke="#b8b8b8" stroke-width="0.9"/></symbol>
<symbol id="f_au" viewBox="0 0 14 14" overflow="visible"><g clip-path="url(#fcp)"><rect width="14" height="14" fill="#14287a"/><rect x="0" y="0" width="7" height="7" fill="#14287a"/><path d="M0,0 L7,7 M7,0 L0,7" stroke="#fff" stroke-width="1.2"/><path d="M3.5,0 V7 M0,3.5 H7" stroke="#fff" stroke-width="1.6"/><path d="M3.5,0 V7 M0,3.5 H7" stroke="#d0202a" stroke-width="0.8"/><circle cx="4" cy="10.5" r="1.1" fill="#fff"/><circle cx="10.5" cy="4" r="0.7" fill="#fff"/><circle cx="9" cy="8" r="0.7" fill="#fff"/><circle cx="12" cy="7.5" r="0.6" fill="#fff"/><circle cx="10.5" cy="11.5" r="0.8" fill="#fff"/></g><circle cx="7" cy="7" r="6.55" fill="none" stroke="#b8b8b8" stroke-width="0.9"/></symbol>
<symbol id="f_de" viewBox="0 0 14 14" overflow="visible"><g clip-path="url(#fcp)"><rect width="14" height="4.7" fill="#111"/><rect y="4.7" width="14" height="4.6" fill="#e0161b"/><rect y="9.3" width="14" height="4.7" fill="#ffcc00"/></g><circle cx="7" cy="7" r="6.55" fill="none" stroke="#b8b8b8" stroke-width="0.9"/></symbol>
<symbol id="f_ca" viewBox="0 0 14 14" overflow="visible"><g clip-path="url(#fcp)"><rect width="14" height="14" fill="#fff"/><path d="M7,2.2 L8.2,4.4 L10,3.8 L9.4,7 L11.6,6.2 L10.9,8.4 L7.6,10.4 L7.6,11.8 L6.4,11.8 L6.4,10.4 L3.1,8.4 L2.4,6.2 L4.6,7 L4,3.8 L5.8,4.4 Z" fill="#e3252f"/></g><circle cx="7" cy="7" r="6.55" fill="none" stroke="#b8b8b8" stroke-width="0.9"/></symbol>
<symbol id="f_ar" viewBox="0 0 14 14" overflow="visible"><g clip-path="url(#fcp)"><rect width="14" height="4.7" fill="#75b2e2"/><rect y="4.7" width="14" height="4.6" fill="#fff"/><rect y="9.3" width="14" height="4.7" fill="#75b2e2"/><circle cx="7" cy="7" r="1.2" fill="#f6b40e"/></g><circle cx="7" cy="7" r="6.55" fill="none" stroke="#b8b8b8" stroke-width="0.9"/></symbol>
<symbol id="f_it" viewBox="0 0 14 14" overflow="visible"><g clip-path="url(#fcp)"><rect width="4.8" height="14" fill="#0a9248"/><rect x="4.8" width="4.4" height="14" fill="#fff"/><rect x="9.2" width="4.8" height="14" fill="#d22b37"/></g><circle cx="7" cy="7" r="6.55" fill="none" stroke="#b8b8b8" stroke-width="0.9"/></symbol>
<symbol id="f_es" viewBox="0 0 14 14" overflow="visible"><g clip-path="url(#fcp)"><rect width="14" height="14" fill="#c61b23"/><rect y="3.6" width="14" height="6.8" fill="#f5c400"/><rect x="3.2" y="5.2" width="2.6" height="3.6" rx="0.6" fill="#b8312a"/></g><circle cx="7" cy="7" r="6.55" fill="none" stroke="#b8b8b8" stroke-width="0.9"/></symbol>
<symbol id="f_kr" viewBox="0 0 14 14" overflow="visible"><g clip-path="url(#fcp)"><rect width="14" height="14" fill="#fff"/><path d="M4.2,7 A2.8,2.8 0 0 1 9.8,7 A1.4,1.4 0 0 1 7,7 A1.4,1.4 0 0 0 4.2,7 Z" fill="#d0202a"/><path d="M4.2,7 A2.8,2.8 0 0 0 9.8,7 A1.4,1.4 0 0 1 7,7 A1.4,1.4 0 0 0 4.2,7 Z" fill="#1a3d8f"/><path d="M2.2,3.6 L3.6,2.2 M2.8,4.2 L4.2,2.8 M10.4,2.2 L11.8,3.6 M9.8,2.8 L11.2,4.2 M2.2,10.4 L3.6,11.8 M2.8,9.8 L4.2,11.2 M10.4,11.8 L11.8,10.4 M9.8,11.2 L11.2,9.8" stroke="#111" stroke-width="0.55"/></g><circle cx="7" cy="7" r="6.55" fill="none" stroke="#b8b8b8" stroke-width="0.9"/></symbol>
<symbol id="f_id" viewBox="0 0 14 14" overflow="visible"><g clip-path="url(#fcp)"><rect width="14" height="7" fill="#e3141f"/><rect y="7" width="14" height="7" fill="#fff"/></g><circle cx="7" cy="7" r="6.55" fill="none" stroke="#b8b8b8" stroke-width="0.9"/></symbol>
<symbol id="f_in" viewBox="0 0 14 14" overflow="visible"><g clip-path="url(#fcp)"><rect width="14" height="4.7" fill="#f7962c"/><rect y="4.7" width="14" height="4.6" fill="#fff"/><rect y="9.3" width="14" height="4.7" fill="#17883a"/><circle cx="7" cy="7" r="1.3" fill="none" stroke="#1a2f8a" stroke-width="0.5"/></g><circle cx="7" cy="7" r="6.55" fill="none" stroke="#b8b8b8" stroke-width="0.9"/></symbol>
<symbol id="f_br" viewBox="0 0 14 14" overflow="visible"><g clip-path="url(#fcp)"><rect width="14" height="14" fill="#1a9c45"/><path d="M7,2.2 L12.6,7 L7,11.8 L1.4,7 Z" fill="#f8d90f"/><circle cx="7" cy="7" r="2.5" fill="#1f3c8c"/></g><circle cx="7" cy="7" r="6.55" fill="none" stroke="#b8b8b8" stroke-width="0.9"/></symbol>
<symbol id="f_us" viewBox="0 0 14 14" overflow="visible"><g clip-path="url(#fcp)"><rect width="14" height="14" fill="#fff"/><rect y="0.00" width="14" height="1.08" fill="#c8202f"/><rect y="2.15" width="14" height="1.08" fill="#c8202f"/><rect y="4.30" width="14" height="1.08" fill="#c8202f"/><rect y="6.45" width="14" height="1.08" fill="#c8202f"/><rect y="8.60" width="14" height="1.08" fill="#c8202f"/><rect y="10.75" width="14" height="1.08" fill="#c8202f"/><rect y="12.90" width="14" height="1.08" fill="#c8202f"/><rect width="6.5" height="7.5" fill="#2c3a7a"/></g><circle cx="7" cy="7" r="6.55" fill="none" stroke="#b8b8b8" stroke-width="0.9"/></symbol>
</defs>
<rect x="29" y="1306" width="571" height="345" rx="12" fill="#fff"/>
<text x="178.8" y="1353.3" font-size="29" font-weight="bold" fill="url(#tg4)" textLength="242.7" lengthAdjust="spacingAndGlyphs">Top 5 Countries with</text>
<circle cx="68.7" cy="1409.6" r="17.3" fill="#4aa3ee"/>
<circle cx="68.7" cy="1409.6" r="12.1" fill="none" stroke="#fff" stroke-width="1.3"/>
<path d="M69.2,1403.3999999999999 V1410.8999999999999 L75.7,1407.5" fill="none" stroke="#fff" stroke-width="1.3" stroke-linecap="round" stroke-linejoin="round"/>
<circle cx="358.7" cy="1410.1" r="17.5" fill="#5bcf8a"/>
<path d="M358.7,1401.6 L358.7,1407.5 M360.7,1405.3 L358.7,1407.5 L356.7,1405.3 M358.7,1418.6 L358.7,1412.7 M356.7,1414.9 L358.7,1412.7 L360.7,1414.9 M350.2,1410.1 L356.1,1410.1 M353.9,1408.1 L356.1,1410.1 L353.9,1412.1 M367.2,1410.1 L361.3,1410.1 M363.5,1412.1 L361.3,1410.1 L363.5,1408.1" fill="none" stroke="#fff" stroke-width="1.1" stroke-linecap="round" stroke-linejoin="round"/>
<text x="96.4" y="1407.7" font-size="18.5" font-weight="bold" fill="#4d4d4d" textLength="105.3" lengthAdjust="spacingAndGlyphs">Longest Sleep</text>
<text x="96.4" y="1429.9" font-size="18.5" font-weight="bold" fill="#4aa3ee" textLength="61.9" lengthAdjust="spacingAndGlyphs">Duration</text>
<text x="160.9" y="1429.9" font-size="18.5" font-weight="bold" fill="#4d4d4d" textLength="90.7" lengthAdjust="spacingAndGlyphs">Post-COVID</text>
<text x="385.7" y="1407.7" font-size="18.5" font-weight="bold" fill="#4d4d4d" textLength="103.6" lengthAdjust="spacingAndGlyphs">Highest Sleep</text>
<text x="385.7" y="1429.9" font-size="18.5" font-weight="bold" fill="#5bcf8a" textLength="72.3" lengthAdjust="spacingAndGlyphs">Efficiency</text>
<text x="461.4" y="1429.9" font-size="18.5" font-weight="bold" fill="#4d4d4d" textLength="87.3" lengthAdjust="spacingAndGlyphs">Post-COVID</text>
<rect x="49.9" y="1458.3" width="236.9" height="27.0" rx="13.5" fill="#fff" filter="url(#sh2)"/>
<rect x="339.1" y="1458.3" width="236.5" height="27.0" rx="13.5" fill="#fff" filter="url(#sh2)"/>
<rect x="50.1" y="1491.5" width="236.5" height="26.6" rx="13.3" fill="#fff" filter="url(#sh2)"/>
<rect x="339.3" y="1491.5" width="236.1" height="26.6" rx="13.3" fill="#fff" filter="url(#sh2)"/>
<rect x="50.1" y="1524.5" width="236.5" height="26.6" rx="13.3" fill="#fff" filter="url(#sh2)"/>
<rect x="339.3" y="1524.5" width="236.1" height="26.6" rx="13.3" fill="#fff" filter="url(#sh2)"/>
<rect x="50.1" y="1557.5" width="236.5" height="26.6" rx="13.3" fill="#fff" filter="url(#sh2)"/>
<rect x="339.3" y="1557.5" width="236.1" height="26.6" rx="13.3" fill="#fff" filter="url(#sh2)"/>
<rect x="50.1" y="1590.5" width="236.5" height="26.6" rx="13.3" fill="#fff" filter="url(#sh2)"/>
<rect x="339.3" y="1590.5" width="236.1" height="26.6" rx="13.3" fill="#fff" filter="url(#sh2)"/>
<rect x="49.9" y="1458.3" width="236.9" height="27.0" rx="13.5" fill="#fff" stroke="url(#pg)" stroke-width="1.6"/>
<text x="68.0" y="1477.9" font-size="17" fill="#222">1.</text>
<use href="#f_fr" x="94.7" y="1463.8" width="16" height="16"/>
<circle cx="102.7" cy="1471.8" r="7.50" fill="none" stroke="url(#pg)" stroke-width="1.1"/>
<text x="119.5" y="1478.0" font-size="18" font-weight="bold" fill="#111" textLength="51.1" lengthAdjust="spacingAndGlyphs">France</text>
<rect x="339.1" y="1458.3" width="236.5" height="27.0" rx="13.5" fill="#fff" stroke="url(#pg)" stroke-width="1.6"/>
<text x="357.8" y="1477.9" font-size="17" fill="#222">1.</text>
<use href="#f_ar" x="383.3" y="1463.8" width="16" height="16"/>
<circle cx="391.3" cy="1471.8" r="7.50" fill="none" stroke="url(#pg)" stroke-width="1.1"/>
<text x="412.1" y="1478.0" font-size="18" font-weight="bold" fill="#111" textLength="74.3" lengthAdjust="spacingAndGlyphs">Argentina</text>
<rect x="50.1" y="1491.5" width="236.5" height="26.6" rx="13.3" fill="#fff"/>
<text x="68.0" y="1510.9" font-size="17" fill="#222">2.</text>
<use href="#f_uk" x="94.7" y="1496.8" width="16" height="16"/>
<text x="119.5" y="1511.0" font-size="18" font-weight="bold" fill="#111" textLength="122.4" lengthAdjust="spacingAndGlyphs">United Kingdom</text>
<rect x="339.3" y="1491.5" width="236.1" height="26.6" rx="13.3" fill="#fff"/>
<text x="357.8" y="1510.9" font-size="17" fill="#222">2.</text>
<use href="#f_it" x="383.3" y="1496.8" width="16" height="16"/>
<text x="411.3" y="1511.0" font-size="18" font-weight="bold" fill="#111" textLength="34.8" lengthAdjust="spacingAndGlyphs">Italy</text>
<rect x="50.1" y="1524.5" width="236.5" height="26.6" rx="13.3" fill="#fff"/>
<text x="68.0" y="1543.9" font-size="17" fill="#222">3.</text>
<use href="#f_au" x="94.7" y="1529.8" width="16" height="16"/>
<text x="120.1" y="1544.0" font-size="18" font-weight="bold" fill="#111" textLength="68.8" lengthAdjust="spacingAndGlyphs">Australia</text>
<rect x="339.3" y="1524.5" width="236.1" height="26.6" rx="13.3" fill="#fff"/>
<text x="357.8" y="1543.9" font-size="17" fill="#222">3.</text>
<use href="#f_de" x="383.3" y="1529.8" width="16" height="16"/>
<text x="411.9" y="1544.0" font-size="18" font-weight="bold" fill="#111" textLength="67.7" lengthAdjust="spacingAndGlyphs">Germany</text>
<rect x="50.1" y="1557.5" width="236.5" height="26.6" rx="13.3" fill="#fff"/>
<text x="68.0" y="1576.9" font-size="17" fill="#222">4.</text>
<use href="#f_de" x="94.7" y="1562.8" width="16" height="16"/>
<text x="119.9" y="1577.0" font-size="18" font-weight="bold" fill="#111" textLength="68.2" lengthAdjust="spacingAndGlyphs">Germany</text>
<rect x="339.3" y="1557.5" width="236.1" height="26.6" rx="13.3" fill="#fff"/>
<text x="357.8" y="1576.9" font-size="17" fill="#222">4.</text>
<use href="#f_es" x="383.3" y="1562.8" width="16" height="16"/>
<text x="412.1" y="1577.0" font-size="18" font-weight="bold" fill="#111" textLength="42.4" lengthAdjust="spacingAndGlyphs">Spain</text>
<rect x="50.1" y="1590.5" width="236.5" height="26.6" rx="13.3" fill="#fff"/>
<text x="68.0" y="1609.9" font-size="17" fill="#222">5.</text>
<use href="#f_ca" x="94.7" y="1595.8" width="16" height="16"/>
<text x="119.9" y="1610.0" font-size="18" font-weight="bold" fill="#111" textLength="55.5" lengthAdjust="spacingAndGlyphs">Canada</text>
<rect x="339.3" y="1590.5" width="236.1" height="26.6" rx="13.3" fill="#fff"/>
<text x="357.8" y="1609.9" font-size="17" fill="#222">5.</text>
<use href="#f_fr" x="383.3" y="1595.8" width="16" height="16"/>
<text x="411.5" y="1610.0" font-size="18" font-weight="bold" fill="#111" textLength="51.1" lengthAdjust="spacingAndGlyphs">France</text>
<rect x="29" y="1678" width="571" height="375" rx="12" fill="#fff"/>
<text x="129.2" y="1727.9" font-size="27.6" font-weight="bold" fill="url(#tg5)" textLength="370.2" lengthAdjust="spacingAndGlyphs">Top 5 Countries that Witnessed</text>
<text x="126.3" y="1760.3" font-size="27.6" font-weight="bold" fill="url(#tg5)" textLength="377.1" lengthAdjust="spacingAndGlyphs">Biggest Change Since COVID-19</text>
<circle cx="68.1" cy="1820" r="17.3" fill="#4aa3ee"/>
<circle cx="68.1" cy="1820" r="12.1" fill="none" stroke="#fff" stroke-width="1.3"/>
<path d="M68.6,1813.8 V1821.3 L75.1,1817.9" fill="none" stroke="#fff" stroke-width="1.3" stroke-linecap="round" stroke-linejoin="round"/>
<circle cx="358.9" cy="1821" r="17.5" fill="#5bcf8a"/>
<path d="M358.9,1812.5 L358.9,1818.4 M360.9,1816.2 L358.9,1818.4 L356.9,1816.2 M358.9,1829.5 L358.9,1823.6 M356.9,1825.8 L358.9,1823.6 L360.9,1825.8 M350.4,1821.0 L356.3,1821.0 M354.1,1819.0 L356.3,1821.0 L354.1,1823.0 M367.4,1821.0 L361.5,1821.0 M363.7,1823.0 L361.5,1821.0 L363.7,1819.0" fill="none" stroke="#fff" stroke-width="1.1" stroke-linecap="round" stroke-linejoin="round"/>
<text x="97.3" y="1826.8" font-size="18.5" font-weight="bold" fill="#4aa3ee" textLength="111.6" lengthAdjust="spacingAndGlyphs">Sleep Duration</text>
<text x="387.4" y="1826.8" font-size="18.5" font-weight="bold" fill="#5bcf8a" textLength="118.9" lengthAdjust="spacingAndGlyphs">Sleep Efficiency</text>
<rect x="51.1" y="1860.1" width="237.0" height="27.0" rx="13.5" fill="#fff" filter="url(#sh2)"/>
<rect x="341.1" y="1860.1" width="237.0" height="27.0" rx="13.5" fill="#fff" filter="url(#sh2)"/>
<rect x="51.3" y="1893.1" width="236.6" height="26.6" rx="13.3" fill="#fff" filter="url(#sh2)"/>
<rect x="341.3" y="1893.1" width="236.6" height="26.6" rx="13.3" fill="#fff" filter="url(#sh2)"/>
<rect x="51.3" y="1925.9" width="236.6" height="26.6" rx="13.3" fill="#fff" filter="url(#sh2)"/>
<rect x="341.3" y="1925.9" width="236.6" height="26.6" rx="13.3" fill="#fff" filter="url(#sh2)"/>
<rect x="51.3" y="1958.7" width="236.6" height="26.6" rx="13.3" fill="#fff" filter="url(#sh2)"/>
<rect x="341.3" y="1958.7" width="236.6" height="26.6" rx="13.3" fill="#fff" filter="url(#sh2)"/>
<rect x="51.3" y="1991.5" width="236.6" height="26.6" rx="13.3" fill="#fff" filter="url(#sh2)"/>
<rect x="341.3" y="1991.5" width="236.6" height="26.6" rx="13.3" fill="#fff" filter="url(#sh2)"/>
<rect x="51.1" y="1860.1" width="237.0" height="27.0" rx="13.5" fill="#fff" stroke="url(#pg)" stroke-width="1.6"/>
<text x="70.5" y="1879.7" font-size="17" fill="#222">1.</text>
<use href="#f_kr" x="96.0" y="1865.6" width="16" height="16"/>
<circle cx="104" cy="1873.6" r="7.50" fill="none" stroke="url(#pg)" stroke-width="1.1"/>
<text x="123.3" y="1879.8" font-size="18" font-weight="bold" fill="#111" textLength="44.1" lengthAdjust="spacingAndGlyphs">Korea</text>
<rect x="341.1" y="1860.1" width="237.0" height="27.0" rx="13.5" fill="#fff" stroke="url(#pg)" stroke-width="1.6"/>
<text x="361.0" y="1879.7" font-size="17" fill="#222">1.</text>
<use href="#f_id" x="386.8" y="1865.6" width="16" height="16"/>
<circle cx="394.8" cy="1873.6" r="7.50" fill="none" stroke="url(#pg)" stroke-width="1.1"/>
<text x="412.5" y="1879.8" font-size="18" font-weight="bold" fill="#111" textLength="73.4" lengthAdjust="spacingAndGlyphs">Indonesia</text>
<rect x="51.3" y="1893.1" width="236.6" height="26.6" rx="13.3" fill="#fff"/>
<text x="70.5" y="1912.5" font-size="17" fill="#222">2.</text>
<use href="#f_ar" x="96.0" y="1898.4" width="16" height="16"/>
<text x="123.9" y="1912.6" font-size="18" font-weight="bold" fill="#111" textLength="74.5" lengthAdjust="spacingAndGlyphs">Argentina</text>
<rect x="341.3" y="1893.1" width="236.6" height="26.6" rx="13.3" fill="#fff"/>
<text x="361.0" y="1912.5" font-size="17" fill="#222">2.</text>
<use href="#f_kr" x="386.8" y="1898.4" width="16" height="16"/>
<text x="412.6" y="1912.6" font-size="18" font-weight="bold" fill="#111" textLength="43.3" lengthAdjust="spacingAndGlyphs">Korea</text>
<rect x="51.3" y="1925.9" width="236.6" height="26.6" rx="13.3" fill="#fff"/>
<text x="70.5" y="1945.3" font-size="17" fill="#222">3.</text>
<use href="#f_id" x="96.0" y="1931.2" width="16" height="16"/>
<text x="123.3" y="1945.4" font-size="18" font-weight="bold" fill="#111" textLength="73.1" lengthAdjust="spacingAndGlyphs">Indonesia</text>
<rect x="341.3" y="1925.9" width="236.6" height="26.6" rx="13.3" fill="#fff"/>
<text x="361.0" y="1945.3" font-size="17" fill="#222">3.</text>
<use href="#f_br" x="386.8" y="1931.2" width="16" height="16"/>
<text x="412.5" y="1945.4" font-size="18" font-weight="bold" fill="#111" textLength="45.2" lengthAdjust="spacingAndGlyphs">Brazil</text>
<rect x="51.3" y="1958.7" width="236.6" height="26.6" rx="13.3" fill="#fff"/>
<text x="70.5" y="1978.1" font-size="17" fill="#222">4.</text>
<use href="#f_it" x="96.0" y="1964.0" width="16" height="16"/>
<text x="123.1" y="1978.2" font-size="18" font-weight="bold" fill="#111" textLength="35.0" lengthAdjust="spacingAndGlyphs">Italy</text>
<rect x="341.3" y="1958.7" width="236.6" height="26.6" rx="13.3" fill="#fff"/>
<text x="361.0" y="1978.1" font-size="17" fill="#222">4.</text>
<use href="#f_us" x="386.8" y="1964.0" width="16" height="16"/>
<text x="412.6" y="1978.2" font-size="18" font-weight="bold" fill="#111" textLength="103.0" lengthAdjust="spacingAndGlyphs">United States</text>
<rect x="51.3" y="1991.5" width="236.6" height="26.6" rx="13.3" fill="#fff"/>
<text x="70.5" y="2010.9" font-size="17" fill="#222">5.</text>
<use href="#f_in" x="96.0" y="1996.8" width="16" height="16"/>
<text x="123.2" y="2011.0" font-size="18" font-weight="bold" fill="#111" textLength="37.7" lengthAdjust="spacingAndGlyphs">India</text>
<rect x="341.3" y="1991.5" width="236.6" height="26.6" rx="13.3" fill="#fff"/>
<text x="361.0" y="2010.9" font-size="17" fill="#222">5.</text>
<use href="#f_in" x="386.8" y="1996.8" width="16" height="16"/>
<text x="412.5" y="2011.0" font-size="18" font-weight="bold" fill="#111" textLength="37.4" lengthAdjust="spacingAndGlyphs">India</text>
</svg>
</body></html>
